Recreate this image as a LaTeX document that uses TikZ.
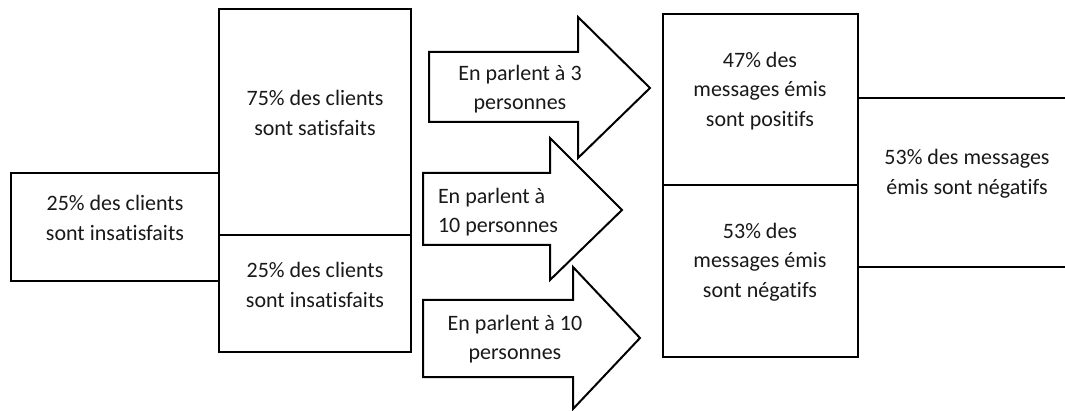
\documentclass[tikz,border=0pt]{standalone}
\usepackage{fontspec}
\setmainfont[Ligatures={NoCommon}]{Carlito}
\begin{document}
\begin{tikzpicture}[x=1pt,y=-1pt,
  line width=2pt,
  box/.style={draw=black, fill=white, inner sep=0pt, outer sep=0pt},
  txt/.style={align=center, inner sep=0pt, font=\fontsize{22}{29.5}\selectfont, text=black!90},
  arrowshape/.style={draw=black, fill=white, line join=miter}]
\useasboundingbox (0,0) rectangle (1065,411);
% boxes
\node[box, minimum width=208pt, minimum height=108pt] (left) at (115,227) {};
\node[box, minimum width=192pt, minimum height=225.5pt] (mtop) at (315,122.25) {};
\node[box, minimum width=192pt, minimum height=117pt] (mbot) at (315,293.5) {};
\node[box, minimum width=195pt, minimum height=171pt] (rtop) at (760.5,99.5) {};
\node[box, minimum width=195pt, minimum height=172pt] (rbot) at (760.5,271) {};
% texts in boxes
\node[txt] (tleft) at (115,218) {25\% des clients\\sont insatisfaits};
\node[txt] (tmtop) at (315,113) {75\% des clients\\sont satisfaits};
\node[txt] (tmbot) at (315,285) {25\% des clients\\sont insatisfaits};
\node[txt] (trtop) at (760,91) {47\% des\\messages émis\\sont positifs};
\node[txt] (trbot) at (760,262) {53\% des\\messages émis\\sont négatifs};
% arrows
\draw[arrowshape] (429,52) -- (578,52) -- (578,17) -- (650,88) -- (578,158) -- (578,122) -- (429,122) -- cycle;
\draw[arrowshape] (423,173) -- (550,173) -- (550,138) -- (622,210) -- (550,280) -- (550,245) -- (423,245) -- cycle;
\draw[arrowshape] (423,300) -- (573,300) -- (573,267) -- (640,338) -- (573,409) -- (573,377) -- (423,377) -- cycle;
\node[txt] (ta1) at (520,89) {En parlent à 3\\personnes};
\node[txt, align=left, anchor=west] (ta2) at (437,212) {En parlent à\\10 personnes};
\node[txt] (ta3) at (515,339) {En parlent à 10\\personnes};
% right lines
\coordinate (e1) at (1065,98);
\coordinate (e2) at (1065,267);
\draw (rtop.east |- e1) -- (e1);
\draw (rbot.east |- e2) -- (e2);
\node[txt] (tright) at (967,174) {53\% des messages\\émis sont négatifs};
\end{tikzpicture}
\end{document}
